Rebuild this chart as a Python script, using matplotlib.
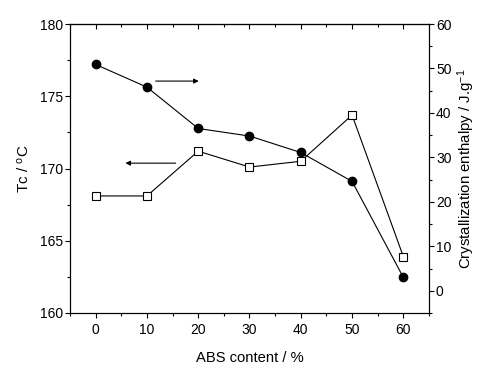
import numpy as np
import matplotlib
matplotlib.use('Agg')
import matplotlib.pyplot as plt
from matplotlib.ticker import MultipleLocator

plt.rcParams['font.family'] = ['Liberation Sans', 'DejaVu Sans']
plt.rcParams['font.size'] = 10

# data
abs_content = [0, 10, 20, 30, 40, 50, 60]
tc = [168.1, 168.1, 171.2, 170.1, 170.5, 173.7, 163.9]
enthalpy = [50.9, 45.8, 36.5, 34.8, 31.1, 24.6, 3.0]

fig = plt.figure(figsize=(4.81, 3.67), dpi=100)
ax = fig.add_axes([70/481, 1 - 313/367, 359/481, 289/367])
ax2 = ax.twinx()

ax.plot(abs_content, tc, color='black', lw=0.8, marker='s', ms=5.2,
        mfc='white', mec='black', mew=0.8, zorder=3)
ax2.plot(abs_content, enthalpy, color='black', lw=0.8, marker='o', ms=6,
         mfc='black', mec='black', zorder=3)

ax.set_xlim(-5, 65)
ax.set_ylim(160, 180)
ax2.set_ylim(-5, 60)

ax.xaxis.set_major_locator(MultipleLocator(10))
ax.xaxis.set_minor_locator(MultipleLocator(5))
ax.yaxis.set_major_locator(MultipleLocator(5))
ax.yaxis.set_minor_locator(MultipleLocator(2.5))
ax2.yaxis.set_major_locator(MultipleLocator(10))
ax2.yaxis.set_minor_locator(MultipleLocator(5))

ax.tick_params(which='major', direction='out', length=3.5, width=0.8, pad=1.5)
ax.tick_params(which='minor', direction='out', length=2, width=0.8)
ax.tick_params(axis='x', pad=4)
ax2.tick_params(which='major', direction='out', length=3.5, width=0.8, pad=1.5)
ax2.tick_params(which='minor', direction='out', length=2, width=0.8)

# top axis: ticks pointing inward, no labels
top = ax.secondary_xaxis('top')
top.xaxis.set_major_locator(MultipleLocator(10))
top.xaxis.set_minor_locator(MultipleLocator(5))
top.tick_params(which='major', direction='in', length=3.5, width=0.8, labeltop=False)
top.tick_params(which='minor', direction='in', length=2, width=0.8)

for a in (ax, ax2):
    for s in a.spines.values():
        s.set_linewidth(0.8)

ax.set_xlabel('ABS content / %', fontsize=10.6, labelpad=10)
ax.set_ylabel('Tc / $\\mathregular{^{o}}$C', fontsize=11, labelpad=6)
ax2.set_ylabel('Crystallization enthalpy / J.g$\\mathregular{^{-1}}$',
               fontsize=10.8, labelpad=3)

# arrows pointing at the matching axis
ax.annotate('', xy=(20.1, 176.05), xytext=(11.7, 176.05),
            arrowprops=dict(arrowstyle='-|>', color='black', lw=0.8,
                            mutation_scale=7, shrinkA=0, shrinkB=0))
ax.annotate('', xy=(5.8, 170.37), xytext=(15.6, 170.37),
            arrowprops=dict(arrowstyle='-|>', color='black', lw=0.8,
                            mutation_scale=7, shrinkA=0, shrinkB=0))

fig.savefig('out.png', dpi=100)
